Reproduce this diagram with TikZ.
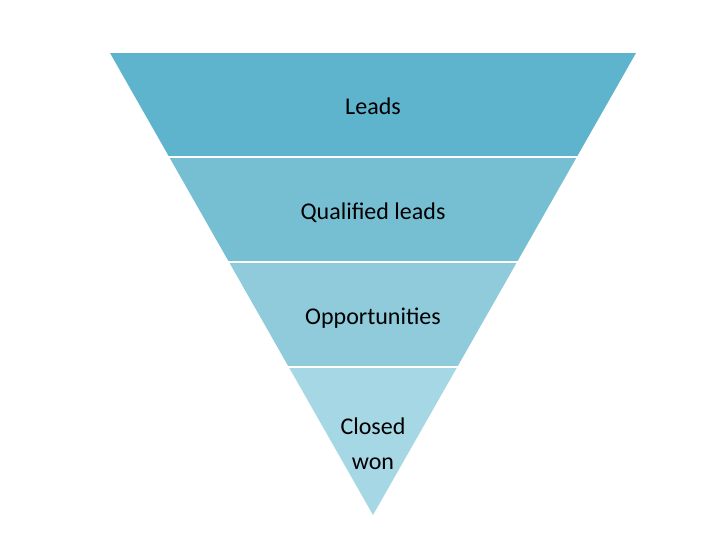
\documentclass[tikz,border=0pt]{standalone}
\usepackage{fontspec}
\setmainfont{Carlito}
\definecolor{fnlone}{HTML}{5EB3CD}
\definecolor{fnltwo}{HTML}{76BFD3}
\definecolor{fnlthree}{HTML}{8FCBDB}
\definecolor{fnlfour}{HTML}{A6D7E4}
\begin{document}
\begin{tikzpicture}[
  x=1pt, y=-1pt,
  band/.style={fill=#1, draw=none},
  lbl/.style={font=\fontsize{24}{35}\selectfont, text=black, align=center, anchor=base, inner sep=0pt}
]
\useasboundingbox (0,0) rectangle (720,540);
% Funnel bands
\begin{scope}
  \clip (110,53) -- (636,53) -- (373,515) -- cycle;
  \fill[band=fnlone] (100,53) rectangle (650,156);
  \fill[band=fnltwo] (100,158) rectangle (650,261);
  \fill[band=fnlthree] (100,263) rectangle (650,366);
  \fill[band=fnlfour] (100,368) rectangle (650,520);
\end{scope}
% Labels
\node[lbl] (leads) at (373,115) {Leads};
\node[lbl] (qual) at (373,219) {Qualified leads};
\node[lbl] (opp) at (373,324) {Opportunities};
\node[lbl] (won) at (373,469) {Closed\\won};
\end{tikzpicture}
\end{document}
